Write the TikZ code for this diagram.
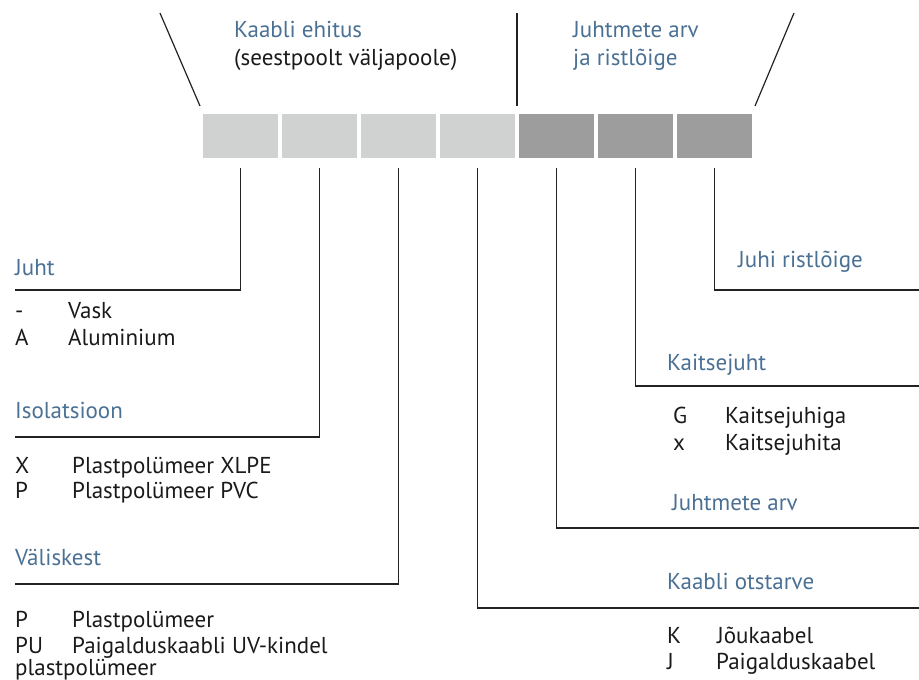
\documentclass[tikz,border=0pt]{standalone}
\usepackage{fontspec}
\setmainfont{PT Sans}
\definecolor{hblue}{HTML}{4A7094}
\definecolor{txt}{HTML}{1A1A1A}
\definecolor{lgray}{HTML}{D0D1D1}
\definecolor{dgray}{HTML}{9D9D9D}
\definecolor{lnc}{HTML}{222222}
\begin{document}
\begin{tikzpicture}[x=1pt,y=-1pt,
  cell/.style={minimum width=75pt,minimum height=44pt,inner sep=0pt,draw=none,anchor=north west},
  lcell/.style={cell,fill=lgray},
  dcell/.style={cell,fill=dgray},
  head/.style={anchor=base west,inner sep=0pt,text=hblue,font=\fontsize{23}{27}\selectfont},
  body/.style={anchor=base west,inner sep=0pt,text=txt,font=\fontsize{23}{27}\selectfont},
  conn/.style={draw=lnc,line width=1.2pt}]
\useasboundingbox (0,0) rectangle (919,680);
% cells
\node[lcell] (b1) at (203,114) {};
\node[lcell] (b2) at (282,114) {};
\node[lcell] (b3) at (361,114) {};
\node[lcell] (b4) at (440,114) {};
\node[dcell] (b5) at (519,114) {};
\node[dcell] (b6) at (598,114) {};
\node[dcell] (b7) at (677,114) {};
% top lines
\coordinate (t1a) at (160,13); \coordinate (t1b) at (200,106);
\coordinate (t2a) at (517,13); \coordinate (t2b) at (517,106);
\coordinate (t3a) at (794,13); \coordinate (t3b) at (755,106);
\draw[conn] (t1a) -- (t1b);
\draw[conn] (t2a) -- (t2b);
\draw[conn] (t3a) -- (t3b);
% top headings
\node[head] (h1) at (234,37) {Kaabli ehitus};
\node[body] (h1b) at (234,65) {(seestpoolt väljapoole)};
\node[head] (h2) at (573,37) {Juhtmete arv};
\node[head] (h2b) at (573,65) {ja ristlõige};
% connector ends
\coordinate (e1) at (15,290);
\coordinate (e2) at (15,437);
\coordinate (e3) at (15,584);
\coordinate (e4) at (919,608);
\coordinate (e5) at (919,528);
\coordinate (e6) at (919,386);
\coordinate (e7) at (919,290);
\draw[conn] ([yshift=-10pt]b1.south) |- (e1);
\draw[conn] ([yshift=-10pt]b2.south) |- (e2);
\draw[conn] ([yshift=-10pt]b3.south) |- (e3);
\draw[conn] ([yshift=-10pt]b4.south) |- (e4);
\draw[conn] ([yshift=-10pt]b5.south) |- (e5);
\draw[conn] ([yshift=-10pt]b6.south) |- (e6);
\draw[conn] ([yshift=-10pt]b7.south) |- (e7);
% left texts
\node[head] (l1) at (15,275) {Juht};
\node[body] (l1a) at (15,318) {-};
\node[body] (l1at) at (68,318) {Vask};
\node[body] (l1b) at (15,345) {A};
\node[body] (l1bt) at (68,345) {Aluminium};
\node[head] (l2) at (15,418) {Isolatsioon};
\node[body] (l2a) at (15,473) {X};
\node[body] (l2at) at (72,473) {Plastpolümeer XLPE};
\node[body] (l2b) at (15,498) {P};
\node[body] (l2bt) at (72,498) {Plastpolümeer PVC};
\node[head] (l3) at (15,565) {Väliskest};
\node[body] (l3a) at (15,627) {P};
\node[body] (l3at) at (72,627) {Plastpolümeer};
\node[body] (l3b) at (15,653) {PU};
\node[body] (l3bt) at (72,653) {Paigalduskaabli UV-kindel};
\node[body] (l3c) at (15,675) {plastpolümeer};
% right texts
\node[head] (r1) at (738,267) {Juhi ristlõige};
\node[head] (r2) at (667,370) {Kaitsejuht};
\node[body] (r2a) at (673,423) {G};
\node[body] (r2at) at (725,423) {Kaitsejuhiga};
\node[body] (r2b) at (673,450) {x};
\node[body] (r2bt) at (725,450) {Kaitsejuhita};
\node[head] (r3) at (672,510) {Juhtmete arv};
\node[head] (r4) at (667,589) {Kaabli otstarve};
\node[body] (r4a) at (667,643) {K};
\node[body] (r4at) at (717,643) {Jõukaabel};
\node[body] (r4b) at (667,669) {J};
\node[body] (r4bt) at (716,669) {Paigalduskaabel};
\end{tikzpicture}
\end{document}
